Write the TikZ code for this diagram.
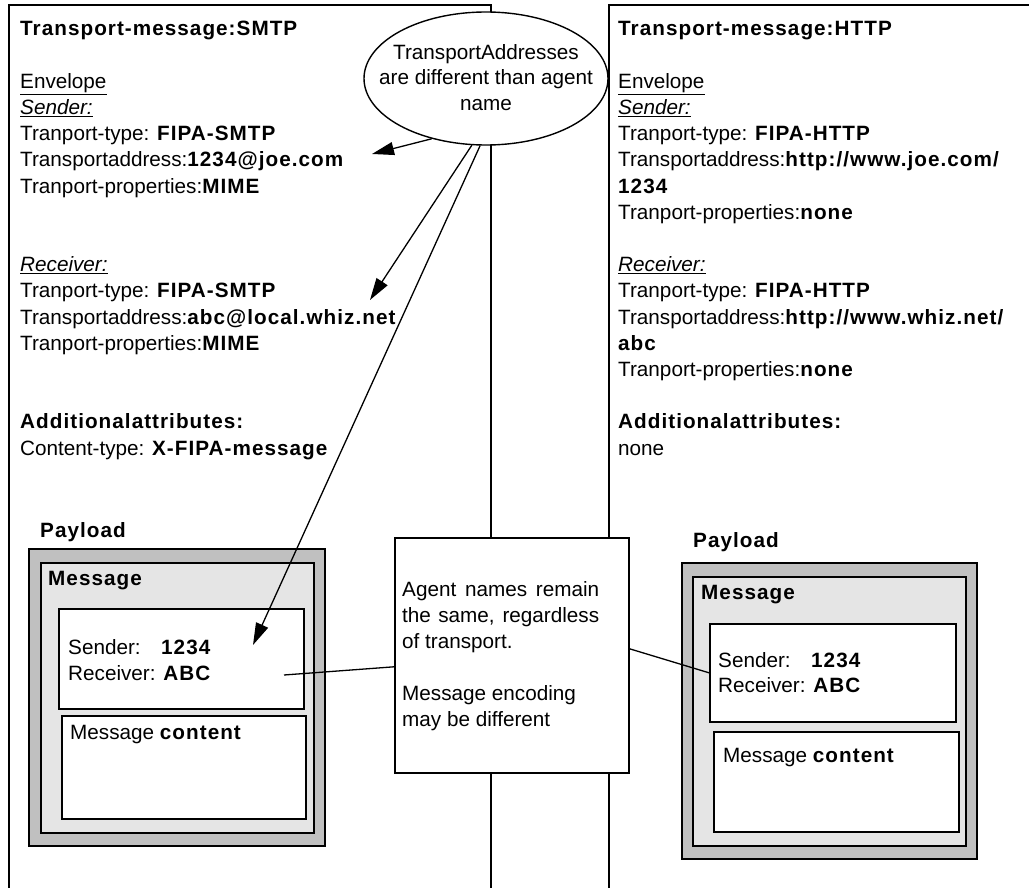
\documentclass[tikz,border=0pt]{standalone}
\usepackage{fontspec}
\setmainfont{Liberation Sans}[BoldFeatures={LetterSpace=5}]
\usetikzlibrary{shapes.geometric,arrows.meta}
\definecolor{paygray}{RGB}{192,192,192}
\definecolor{msggray}{RGB}{229,229,229}
\begin{document}
\begin{tikzpicture}[x=1pt,y=-1pt,
  every node/.style={font=\fontsize{20.7}{26}\selectfont},
  txt/.style={anchor=base west, inner sep=0pt},
  frameline/.style={line width=1.7pt},
  boxit/.style={draw, line width=1.6pt, anchor=north west, inner sep=0pt},
  conn/.style={line width=1.3pt},
  arr/.style={conn, -{Triangle[length=22pt,width=13pt]}}]
\useasboundingbox (0,0) rectangle (1029,888);
\clip (0,0) rectangle (1029,888);
\fill[white] (0,0) rectangle (1029,888);

% transport message frames (open at bottom / right)
\draw[frameline] (9,900) -- (9,5) -- (491,5) -- (491,900);
\draw[frameline] (609,900) -- (609,5) -- (1040,5);

% left column text
\node[txt] (lt) at (20,35.9) {\textbf{Transport-message:SMTP}};
\node[txt] (le) at (20,88.3) {\underline{Envelope}};
\node[txt] (ls) at (20,114.5) {\underline{\textit{Sender:}}};
\node[txt] (ls1) at (20,140.7) {Tranport-type: \textbf{FIPA-SMTP}};
\node[txt] (ls2) at (20,166.9) {Transportaddress:\textbf{1234@joe.com}};
\node[txt] (ls3) at (20,193.1) {Tranport-properties:\textbf{MIME}};
\node[txt] (lr) at (20,271.7) {\underline{\textit{Receiver:}}};
\node[txt] (lr1) at (20,297.9) {Tranport-type: \textbf{FIPA-SMTP}};
\node[txt] (lr2) at (20,324.1) {Transportaddress:\textbf{abc@local.whiz.net}};
\node[txt] (lr3) at (20,350.3) {Tranport-properties:\textbf{MIME}};
\node[txt] (la) at (20,428.9) {\textbf{Additionalattributes:}};
\node[txt] (la1) at (20,455.1) {Content-type: \textbf{X-FIPA-message}};

% right column text
\node[txt] (rt) at (618,35.9) {\textbf{Transport-message:HTTP}};
\node[txt] (re) at (618,88.3) {\underline{Envelope}};
\node[txt] (rs) at (618,114.5) {\underline{\textit{Sender:}}};
\node[txt] (rs1) at (618,140.7) {Tranport-type: \textbf{FIPA-HTTP}};
\node[txt] (rs2) at (618,166.9) {Transportaddress:\textbf{http://www.joe.com/}};
\node[txt] (rs2b) at (618,193.1) {\textbf{1234}};
\node[txt] (rs3) at (618,219.3) {Tranport-properties:\textbf{none}};
\node[txt] (rr) at (618,271.7) {\underline{\textit{Receiver:}}};
\node[txt] (rr1) at (618,297.9) {Tranport-type: \textbf{FIPA-HTTP}};
\node[txt] (rr2) at (618,324.1) {Transportaddress:\textbf{http://www.whiz.net/}};
\node[txt] (rr2b) at (618,350.3) {\textbf{abc}};
\node[txt] (rr3) at (618,376.5) {Tranport-properties:\textbf{none}};
\node[txt] (ra) at (618,428.9) {\textbf{Additionalattributes:}};
\node[txt] (ra1) at (618,455.1) {none};

% left payload
\node[txt] (lpl) at (40,537.5) {\textbf{Payload}};
\node[boxit, fill=paygray, minimum width=296pt, minimum height=297pt] (lpay) at (28,548) {};
\node[boxit, fill=msggray, minimum width=273pt, minimum height=270pt] (lmsg) at (40,562) {};
\node[txt] (lml) at (48,585.5) {\textbf{Message}};
\node[boxit, fill=white, minimum width=245pt, minimum height=100pt] (lsend) at (58,608) {};
\node[boxit, fill=white, minimum width=244pt, minimum height=103pt] (lcont) at (61,715) {};
\node[txt] (lsn) at (68,654.5) {\makebox[93pt][l]{Sender:}\textbf{1234}};
\node[txt] (lrc) at (68,680.5) {Receiver: \textbf{ABC}};
\node[txt] (lct) at (70,739.5) {Message \textbf{content}};

% right payload
\node[txt] (rpl) at (693,547.5) {\textbf{Payload}};
\node[boxit, fill=paygray, minimum width=295pt, minimum height=296pt] (rpay) at (681,562) {};
\node[boxit, fill=msggray, minimum width=273pt, minimum height=269pt] (rmsg) at (692,576) {};
\node[txt] (rml) at (701,599.5) {\textbf{Message}};
\node[boxit, fill=white, minimum width=246pt, minimum height=98pt] (rsend) at (709,623) {};
\node[boxit, fill=white, minimum width=245pt, minimum height=100pt] (rcont) at (713,731) {};
\node[txt] (rsn) at (718,667.5) {\makebox[93pt][l]{Sender:}\textbf{1234}};
\node[txt] (rrc) at (718,692.5) {Receiver: \textbf{ABC}};
\node[txt] (rct) at (723,762.5) {Message \textbf{content}};

% middle note
\node[boxit, fill=white, minimum width=234pt, minimum height=235pt] (mid) at (394,537) {};
\node[txt] (m1) at (402,596.5) {\makebox[197pt][s]{Agent names remain}};
\node[txt] (m2) at (402,622.5) {\makebox[197pt][s]{the same, regardless}};
\node[txt] (m3) at (402,648.5) {of transport.};
\node[txt] (m4) at (402,700.5) {Message encoding};
\node[txt] (m5) at (402,726.5) {may be different};

% ellipse note
\node[ellipse, draw, line width=1.4pt, fill=white, minimum width=244pt, minimum height=133pt, inner sep=0pt] (ell) at (486,78.5) {};
\node[anchor=base, inner sep=0pt] (e1) at (486,59.5) {TransportAddresses};
\node[anchor=base, inner sep=0pt] (e2) at (486,85) {are different than agent};
\node[anchor=base, inner sep=0pt] (e3) at (486,110.5) {name};

% arrow targets
\coordinate (t1) at (372,154);
\coordinate (t2) at (370,300);
\coordinate (t3) at (253,645);
\coordinate (lend) at (284,675);

\draw[arr] (ell.228) -- (t1);
\draw[arr] (ell.258) -- (t2);
\draw[arr] (ell.265) -- (t3);

\draw[conn] ([yshift=-11.5pt]mid.west) -- (lend);
\draw[conn] ([yshift=6.5pt]mid.east) -- (rsend.west);
\end{tikzpicture}
\end{document}
